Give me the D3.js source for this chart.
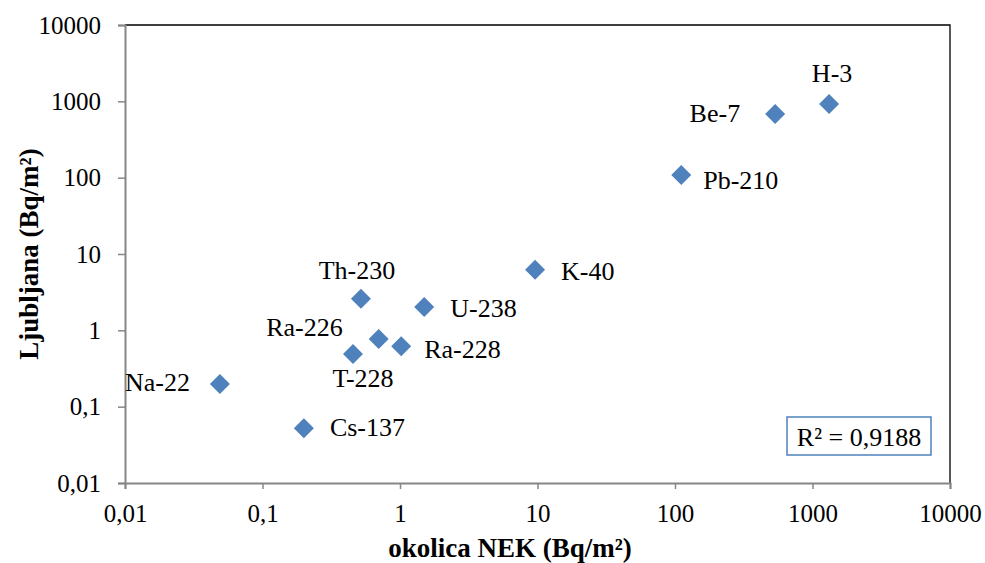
<!DOCTYPE html>
<html>
<head>
<meta charset="utf-8">
<script src="https://cdn.jsdelivr.net/npm/d3@7"></script>
<style>
  html, body { margin: 0; padding: 0; background: #ffffff; }
  svg { display: block; }
</style>
</head>
<body>
<svg id="chart" width="985" height="563"></svg>
<script>
// Radionuclide deposition: surroundings of NEK vs. Ljubljana (Bq/m²)
const nuclides = ["H-3", "Be-7", "Pb-210", "K-40", "Th-230", "U-238", "Ra-226", "Ra-228", "T-228", "Na-22", "Cs-137"];
const nekValues = [1320, 535, 111, 9.6, 0.52, 1.5, 0.70, 1.02, 0.455, 0.049, 0.20];
const ljubljanaValues = [920, 680, 108, 6.2, 2.6, 2.02, 0.77, 0.62, 0.49, 0.198, 0.052];
const tickValues = [0.01, 0.1, 1, 10, 100, 1000, 10000];
const tickLabels = ["0,01", "0,1", "1", "10", "100", "1000", "10000"];
const rSquaredText = "R² = 0,9188";

const FONT = "'Liberation Serif', 'Times New Roman', serif";

const svg = d3.select("#chart");
const margin = { left: 125, top: 25, right: 35, bottom: 80 };
const W = 985, H = 563;
const plotW = W - margin.left - margin.right;
const plotH = H - margin.top - margin.bottom;

const x = d3.scaleLog().domain([0.01, 10000]).range([margin.left, margin.left + plotW]);
const y = d3.scaleLog().domain([0.01, 10000]).range([margin.top + plotH, margin.top]);

const axisGrey = "#868686";
const markerBlue = "#4f81bd";

// top and right frame lines of the plot area
svg.append("path")
  .attr("d", `M${x(0.01)},${y(10000)}H${x(10000)}V${y(0.01)}`)
  .attr("fill", "none").attr("stroke", "#000").attr("stroke-width", 1.3);

const fmt = d => tickLabels[tickValues.indexOf(d)];

const xAxis = svg.append("g")
  .attr("transform", `translate(0,${y(0.01)})`)
  .call(d3.axisBottom(x).tickValues(tickValues).tickFormat(fmt).tickSize(6).tickPadding(15));
const yAxis = svg.append("g")
  .attr("transform", `translate(${x(0.01)},0)`)
  .call(d3.axisLeft(y).tickValues(tickValues).tickFormat(fmt).tickSize(7).tickPadding(17));

[xAxis, yAxis].forEach(g => {
  g.attr("font-family", null).attr("font-size", null);
  g.select(".domain").attr("stroke", axisGrey).attr("stroke-width", 2);
  g.selectAll(".tick line").attr("stroke", axisGrey).attr("stroke-width", 1.5);
  g.selectAll(".tick text")
    .style("font-family", FONT).style("font-size", "25px").attr("fill", "#000");
});
yAxis.selectAll(".tick text").attr("dy", "0.33em");

// axis titles
svg.append("text")
  .attr("x", 510).attr("y", 557)
  .attr("text-anchor", "middle")
  .style("font-family", FONT).style("font-size", "27px").style("font-weight", "bold")
  .text("okolica NEK (Bq/m²)");

svg.append("text")
  .attr("transform", `translate(38,${(y(0.01) + y(10000)) / 2}) rotate(-90)`)
  .attr("text-anchor", "middle")
  .style("font-family", FONT).style("font-size", "27px").style("font-weight", "bold")
  .text("Ljubljana (Bq/m²)");

// data points
const points = nuclides.map((n, i) => ({ name: n, nek: nekValues[i], lj: ljubljanaValues[i] }));
const diamond = d3.symbol().type(d3.symbolSquare).size(200);

svg.append("g").selectAll("path")
  .data(points)
  .join("path")
  .attr("d", diamond)
  .attr("transform", d => `translate(${x(d.nek)},${y(d.lj)}) rotate(45)`)
  .attr("fill", markerBlue);

// label placement relative to each marker: [dx, dy, anchor]
const labelPlacement = {
  "H-3": [3, -22, "middle"],
  "Be-7": [-35, 8, "end"],
  "Pb-210": [22, 14, "start"],
  "K-40": [26, 10, "start"],
  "Th-230": [-4, -20, "middle"],
  "U-238": [26, 10, "start"],
  "Ra-226": [-36, -3, "end"],
  "Ra-228": [23, 12, "start"],
  "T-228": [10, 33, "middle"],
  "Na-22": [-30, 7, "end"],
  "Cs-137": [26, 8, "start"]
};

svg.append("g").selectAll("text")
  .data(points)
  .join("text")
  .attr("x", d => x(d.nek) + labelPlacement[d.name][0])
  .attr("y", d => y(d.lj) + labelPlacement[d.name][1])
  .attr("text-anchor", d => labelPlacement[d.name][2])
  .style("font-family", FONT).style("font-size", "26px")
  .text(d => d.name);

// R² annotation box
const box = svg.append("g").attr("transform", "translate(787,417)");
box.append("rect")
  .attr("width", 144).attr("height", 38)
  .attr("fill", "#fff").attr("stroke", markerBlue).attr("stroke-width", 1.5);
box.append("text")
  .attr("x", 72).attr("y", 29)
  .attr("text-anchor", "middle")
  .style("font-family", FONT).style("font-size", "26px")
  .text(rSquaredText);
</script>
</body>
</html>
